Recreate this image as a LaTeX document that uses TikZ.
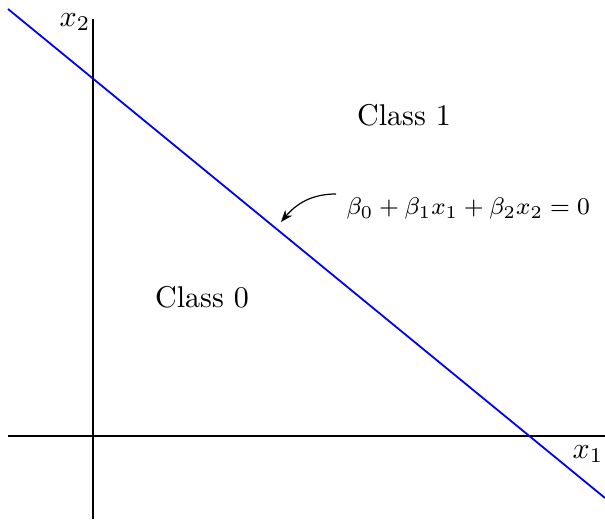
\documentclass[tikz,border=0pt]{standalone}
\usetikzlibrary{arrows.meta}
\begin{document}
\begin{tikzpicture}[x=0.33333pt,y=-0.33333pt,
  axis/.style={black,line width=0.35pt},
  boundary/.style={blue,line width=0.6pt},
  lbl/.style={inner sep=0pt}]
\useasboundingbox (0,0) rectangle (605,520);
% axes
\coordinate (yb) at (93,519);
\coordinate (yt) at (93,19);
\coordinate (xl) at (8,436);
\coordinate (xr) at (605,436);
\draw[axis] (yb) -- (yt);
\draw[axis] (xl) -- (xr);
% decision boundary
\coordinate (bs) at (8,9);
\coordinate (be) at (605,498);
\draw[boundary] (bs) -- (be);
% labels
\node[lbl] (x2) at (75,22) {$x_2$};
\node[lbl] (x1) at (588,454) {$x_1$};
\node[lbl] (c1) at (404,115) {Class 1};
\node[lbl] (c0) at (202,297) {Class 0};
\node[lbl,anchor=west,font=\fontsize{8}{10}\selectfont] (eq) at (346,209) {$\beta_0+\beta_1x_1+\beta_2x_2=0$};
\coordinate (tip) at (281,222);
\coordinate (st) at (336,194);
\draw[line width=0.4pt,-{Stealth[length=4pt,width=3pt]}] (st) to[out=180,in=50] (tip);
\end{tikzpicture}
\end{document}
